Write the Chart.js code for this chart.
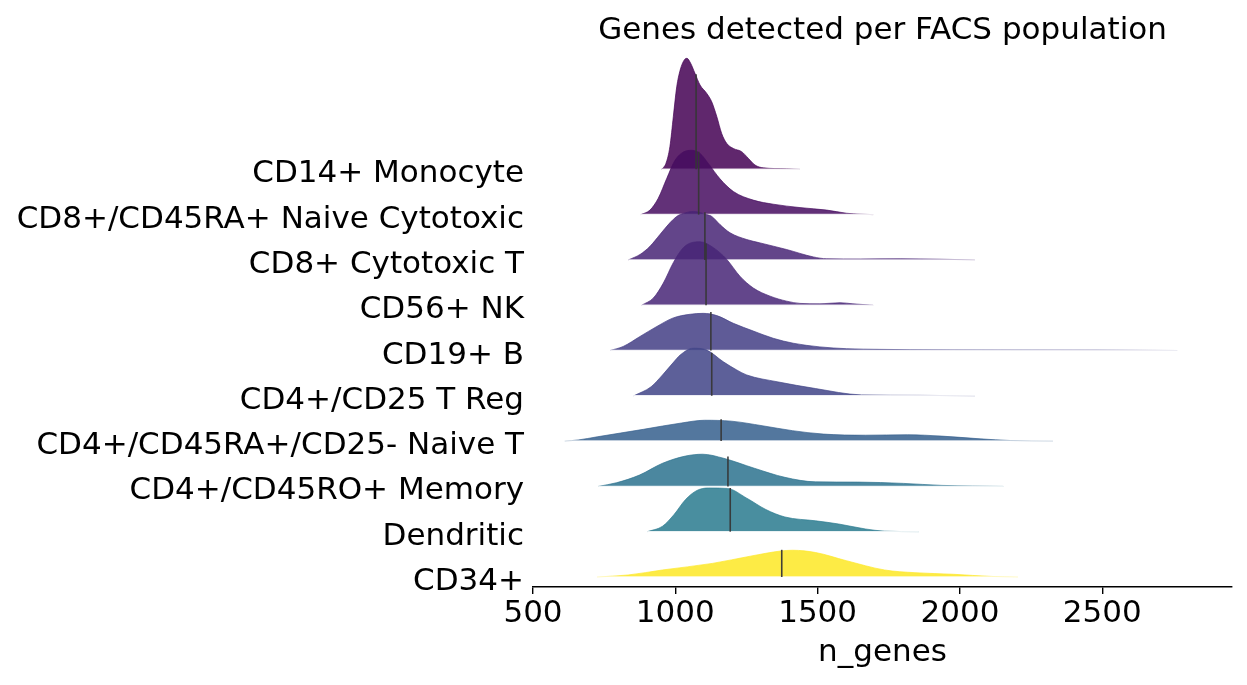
<!DOCTYPE html>
<html>
<head>
<meta charset="utf-8">
<script src="https://cdn.jsdelivr.net/npm/chart.js@4/dist/chart.umd.min.js"></script>
<style>
  html, body { margin: 0; padding: 0; background: #fff; }
  #wrap { width: 1247px; height: 685px; }
</style>
</head>
<body>
<div id="wrap"><canvas id="ridges" width="1247" height="685"></canvas></div>
<script>
/* ── Dati: popolazioni FACS (dall'alto verso il basso) ── */
var populations = [
  'CD14+ Monocyte',
  'CD8+/CD45RA+ Naive Cytotoxic',
  'CD8+ Cytotoxic T',
  'CD56+ NK',
  'CD19+ B',
  'CD4+/CD25 T Reg',
  'CD4+/CD45RA+/CD25- Naive T',
  'CD4+/CD45RO+ Memory',
  'Dendritic',
  'CD34+'
];

/* curve di densita' (n_genes -> altezza in righe) */
var monoGenes      = [952, 967, 981, 993, 1005, 1017, 1031, 1041, 1054, 1069, 1087, 1110, 1128, 1146, 1163, 1181, 1204, 1233, 1257, 1280, 1309, 1391, 1438];
var monoDensity    = [0, 0.13, 0.50, 1.16, 1.82, 2.19, 2.41, 2.45, 2.34, 2.12, 1.86, 1.68, 1.49, 1.16, 0.79, 0.57, 0.46, 0.39, 0.24, 0.095, 0.033, 0.012, 0];

var naiveCytoGenes   = [879, 911, 940, 970, 999, 1040, 1058, 1087, 1116, 1157, 1204, 1274, 1344, 1438, 1532, 1602, 1649, 1695];
var naiveCytoDensity = [0, 0.10, 0.36, 0.80, 1.20, 1.41, 1.42, 1.35, 1.13, 0.79, 0.51, 0.32, 0.23, 0.155, 0.10, 0.03, 0.01, 0];

var cytoGenes      = [835, 876, 911, 946, 981, 1005, 1017, 1063, 1110, 1128, 1157, 1192, 1251, 1298, 1391, 1485, 1532, 1650, 1790, 1930, 2053];
var cytoDensity    = [0, 0.12, 0.30, 0.56, 0.82, 0.96, 1.0, 1.07, 1.0, 0.96, 0.78, 0.60, 0.45, 0.375, 0.23, 0.066, 0.025, 0.02, 0.025, 0.015, 0];

var nkGenes        = [882, 923, 958, 993, 1028, 1063, 1087, 1134, 1181, 1227, 1274, 1333, 1391, 1438, 1508, 1579, 1624, 1695];
var nkDensity      = [0, 0.16, 0.49, 0.94, 1.27, 1.39, 1.40, 1.27, 1.01, 0.64, 0.38, 0.20, 0.09, 0.04, 0.03, 0.055, 0.03, 0];

var bGenes         = [771, 817, 876, 935, 993, 1052, 1098, 1146, 1204, 1274, 1344, 1415, 1508, 1602, 1719, 1825, 2141, 2492, 2763];
var bDensity       = [0, 0.09, 0.31, 0.53, 0.72, 0.80, 0.82, 0.77, 0.60, 0.43, 0.27, 0.16, 0.08, 0.04, 0.025, 0.018, 0.013, 0.01, 0];

var tregGenes      = [854, 915, 955, 995, 1017, 1063, 1110, 1169, 1216, 1251, 1358, 1493, 1654, 1860, 2053];
var tregDensity    = [0, 0.20, 0.46, 0.75, 0.90, 1.05, 1.01, 0.75, 0.57, 0.46, 0.31, 0.16, 0.02, 0.01, 0];

var naiveTGenes    = [612, 659, 726, 888, 1022, 1103, 1197, 1305, 1412, 1520, 1668, 1816, 1936, 2071, 2179, 2327];
var naiveTDensity  = [0, 0.025, 0.095, 0.26, 0.40, 0.46, 0.44, 0.34, 0.23, 0.155, 0.13, 0.14, 0.11, 0.05, 0.012, 0];

var memGenes       = [729, 793, 874, 955, 1036, 1096, 1170, 1278, 1385, 1493, 1641, 1802, 1937, 2152];
var memDensity     = [0, 0.08, 0.25, 0.51, 0.67, 0.71, 0.62, 0.40, 0.20, 0.10, 0.095, 0.066, 0.022, 0];

var dcGenes        = [901, 955, 995, 1036, 1076, 1116, 1183, 1251, 1318, 1385, 1493, 1574, 1668, 1735, 1856];
var dcDensity      = [0, 0.12, 0.375, 0.71, 0.91, 0.965, 0.955, 0.74, 0.49, 0.325, 0.24, 0.17, 0.06, 0.012, 0];

var cd34Genes      = [726, 834, 955, 1130, 1264, 1372, 1412, 1493, 1601, 1735, 1842, 1977, 2111, 2204];
var cd34Density    = [0, 0.044, 0.155, 0.30, 0.46, 0.575, 0.59, 0.54, 0.36, 0.155, 0.095, 0.06, 0.012, 0];

/* mediane e altezza della densita' alla mediana */
var medianGenes   = [1073, 1082, 1104, 1108, 1125, 1128, 1161, 1185, 1193, 1374];
var medianDensity = [2.10, 1.39, 1.05, 1.36, 0.85, 0.95, 0.48, 0.66, 0.965, 0.60];

var xTicks = [500, 1000, 1500, 2000, 2500];

/* ── Stile ── */
var ridgeColors = [
  'rgba(68,1,84,0.85)',
  'rgba(71,13,96,0.85)',
  'rgba(72,36,117,0.85)',
  'rgba(72,38,119,0.85)',
  'rgba(67,62,133,0.85)',
  'rgba(65,68,135,0.85)',
  'rgba(53,95,141,0.85)',
  'rgba(44,114,142,0.85)',
  'rgba(41,122,142,0.85)',
  'rgba(253,231,37,0.85)'
];
var FONT = '"DejaVu Sans", "Liberation Sans", sans-serif';

var ridgeGenes   = [monoGenes, naiveCytoGenes, cytoGenes, nkGenes, bGenes, tregGenes, naiveTGenes, memGenes, dcGenes, cd34Genes];
var ridgeDensity = [monoDensity, naiveCytoDensity, cytoDensity, nkDensity, bDensity, tregDensity, naiveTDensity, memDensity, dcDensity, cd34Density];

/* riga 0 = in basso (CD34+) */
var rowOf = populations.map(function(p, i) { return populations.length - 1 - i; });

var datasets = [];
populations.forEach(function(name, i) {
  var base = rowOf[i];
  var xs = ridgeGenes[i], ys = ridgeDensity[i];
  // ridge riempito
  datasets.push({
    label: name,
    data: xs.map(function(x, k) { return { x: x, y: base + ys[k] }; }),
    borderColor: ridgeColors[i],
    borderWidth: 0.8,
    backgroundColor: ridgeColors[i],
    fill: { value: base },
    pointRadius: 0,
    cubicInterpolationMode: 'monotone',
    order: 100 - i * 2
  });
  // linea chiara di base
  datasets.push({
    label: name + ' base',
    data: [{ x: xs[0], y: base }, { x: xs[xs.length - 1], y: base }],
    borderColor: 'rgba(255,255,255,0.85)',
    borderWidth: 1.5,
    fill: false,
    pointRadius: 0,
    order: 99 - i * 2
  });
  // mediana
  datasets.push({
    label: name + ' median',
    data: [{ x: medianGenes[i], y: base }, { x: medianGenes[i], y: base + medianDensity[i] }],
    borderColor: 'rgba(55,55,55,0.95)',
    borderWidth: 1.6,
    fill: false,
    pointRadius: 0,
    order: 0
  });
});

new Chart(document.getElementById('ridges'), {
  type: 'line',
  data: { datasets: datasets },
  options: {
    responsive: false,
    devicePixelRatio: 1,
    animation: false,
    events: [],
    layout: { padding: { left: 0, right: 15, top: 0, bottom: 0 } },
    plugins: {
      legend: { display: false },
      tooltip: { enabled: false },
      title: {
        display: true,
        text: 'Genes detected per FACS population',
        fullSize: false,
        color: '#000',
        font: { family: FONT, size: 31, weight: 'normal' },
        padding: { top: 12.8, bottom: 0 }
      }
    },
    scales: {
      x: {
        type: 'linear',
        min: 500,
        max: 2956,
        afterFit: function(s) { s.height = 98; },
        afterBuildTicks: function(s) { s.ticks = xTicks.map(function(v) { return { value: v }; }); },
        border: { display: true, color: '#000', width: 1.6 },
        grid: { drawOnChartArea: false, drawTicks: true, tickLength: 7, color: '#000', lineWidth: 1.4 },
        ticks: {
          color: '#000',
          padding: 1,
          maxRotation: 0,
          font: { family: FONT, size: 31 },
          callback: function(v) { return String(v); }
        },
        title: {
          display: true,
          text: 'n_genes',
          color: '#000',
          font: { family: FONT, size: 31 },
          padding: { top: 0, bottom: 13 }
        }
      },
      y: {
        type: 'linear',
        min: -0.221,
        max: 11.634,
        afterFit: function(s) { s.width = 533; },
        afterBuildTicks: function(s) { s.ticks = rowOf.map(function(v) { return { value: v }; }); },
        border: { display: false },
        grid: { display: false, drawTicks: false },
        ticks: {
          color: '#000',
          padding: 9,
          labelOffset: 5,
          font: { family: FONT, size: 31 },
          callback: function(v) {
            var idx = rowOf.indexOf(v);
            return idx >= 0 ? populations[idx] : '';
          }
        }
      }
    }
  }
});
</script>
</body>
</html>
